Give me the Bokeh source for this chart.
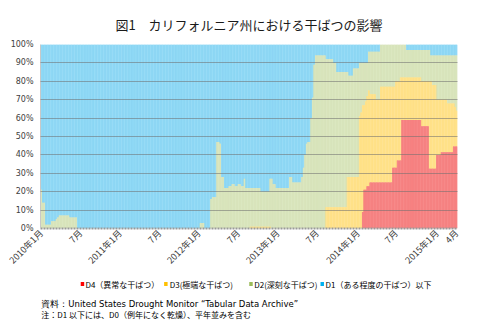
import math
import datetime as dt
from bokeh.plotting import figure
from bokeh.layouts import column
from bokeh.models import FixedTicker, Range1d, ColumnDataSource
from bokeh.core.properties import value
from bokeh.embed import file_html
from bokeh.resources import INLINE

# ---------------- data ----------------
title_text = "図1　カリフォルニア州における干ばつの影響"
series_names = ["D4（異常な干ばつ）", "D3(極端な干ばつ)", "D2(深刻な干ばつ)", "D1（ある程度の干ばつ）以下"]
source_note = "資料：United States Drought Monitor “Tabular Data Archive”"
note_text = "注：D1 以下には、D0（例年になく乾燥）、平年並みを含む"
first_week = "2010-01-05"
tick_months = ["2010-01", "2010-07", "2011-01", "2011-07", "2012-01", "2012-07",
               "2013-01", "2013-07", "2014-01", "2014-07", "2015-01", "2015-04"]
tick_labels = ["2010年1月", "7月", "2011年1月", "7月", "2012年1月", "7月",
               "2013年1月", "7月", "2014年1月", "7月", "2015年1月", "4月"]
y_ticks = [0, 10, 20, 30, 40, 50, 60, 70, 80, 90, 100]
y_tick_labels = ["0%", "10%", "20%", "30%", "40%", "50%", "60%", "70%", "80%", "90%", "100%"]
total = 100

# cumulative share of area (%), weekly: D2 or worse
d2 = [
    21, 14, 14, 2, 2, 2, 2, 4, 4, 4, 5, 6, 7, 7, 7, 7, 7, 7, 7, 6, 6, 6, 6, 6, 0,
    0, 0, 0, 0, 0, 0, 0, 0, 0, 0, 0, 0, 0, 0, 0, 0, 0, 0, 0, 0, 0, 0, 0, 0, 0,
    0, 0, 0, 0, 0, 0, 0, 0, 0, 0, 0, 0, 0, 0, 0, 0, 0, 0, 0, 0, 0, 0, 0, 0, 0,
    0, 0, 0, 0, 0, 0, 0, 0, 0, 0, 0, 0, 0, 0, 0, 0, 0, 0, 0, 0, 0, 0, 0, 0, 0,
    0, 0, 0, 0, 0, 3, 3, 3, 0, 0, 0, 0, 16, 17, 17, 17, 47, 47, 46, 28, 28, 22, 22, 22, 23,
    23, 24, 24, 23, 23, 24, 24, 23, 23, 27, 22, 22, 22, 22, 22, 22, 22, 22, 22, 22, 20, 20, 20, 20, 20,
    20, 27, 27, 24, 24, 22, 22, 22, 22, 22, 22, 22, 22, 22, 28, 28, 25, 25, 25, 25, 25, 25, 28, 33, 40,
    46, 47, 47, 60, 71, 89, 94, 94, 94, 94, 94, 94, 94, 92, 92, 92, 92, 92, 90, 90, 85, 85, 85, 85, 85,
    85, 85, 85, 83, 83, 83, 87, 87, 87, 87, 90, 90, 90, 90, 90, 90, 96, 96, 96, 96, 96, 96, 96, 96, 100,
    100, 100, 100, 100, 100, 100, 100, 100, 100, 100, 100, 100, 100, 100, 100, 100, 97, 97, 97, 97, 97, 97, 97, 97, 97,
    97, 97, 97, 97, 97, 97, 97, 94, 94, 94, 94, 94, 94, 94, 94, 94, 94, 94, 94, 94, 94, 94, 94, 94, 94,
]
# D3 or worse
d3 = [
    0, 0, 0, 0, 0, 0, 0, 0, 0, 0, 0, 0, 0, 0, 0, 0, 0, 0, 0, 0, 0, 0, 0, 0, 0,
    0, 0, 0, 0, 0, 0, 0, 0, 0, 0, 0, 0, 0, 0, 0, 0, 0, 0, 0, 0, 0, 0, 0, 0, 0,
    0, 0, 0, 0, 0, 0, 0, 0, 0, 0, 0, 0, 0, 0, 0, 0, 0, 0, 0, 0, 0, 0, 0, 0, 0,
    0, 0, 0, 0, 0, 0, 0, 0, 0, 0, 0, 0, 0, 0, 0, 0, 0, 0, 0, 0, 0, 0, 0, 0, 0,
    0, 0, 0, 0, 0, 0, 0, 0, 0, 0, 0, 0, 0, 0, 0, 0, 0, 0, 0, 0, 0, 0, 0, 0, 0,
    0, 0, 0, 0, 0, 0, 0, 0, 0, 0, 0, 0, 0, 1, 1, 1, 1, 1, 1, 1, 1, 1, 1, 1, 1,
    1, 1, 0, 0, 0, 0, 0, 0, 0, 0, 0, 0, 0, 0, 0, 0, 0, 0, 0, 0, 0, 0, 0, 0, 0,
    0, 0, 0, 0, 0, 0, 0, 0, 0, 0, 0, 0, 0, 11.5, 11.5, 11.5, 11.5, 11.5, 11.5, 11.5, 11.5, 11.5, 11.5, 11.5, 11.5,
    11.5, 11.5, 28, 28, 28, 28, 28, 28, 28, 28, 61, 63, 67, 67, 69, 72, 75, 73, 73, 73, 73, 70, 70, 70, 77,
    77, 77, 77, 77, 77, 77, 77, 77, 77, 80, 80, 80, 82, 82, 82, 82, 82, 82, 82, 82, 82, 82, 82, 82, 82,
    82, 80, 80, 80, 80, 80, 80, 80, 78, 78, 78, 70, 70, 70, 70, 70, 70, 70, 68, 68, 68, 68, 68, 66, 64,
]
# D4
d4 = [
    0, 0, 0, 0, 0, 0, 0, 0, 0, 0, 0, 0, 0, 0, 0, 0, 0, 0, 0, 0, 0, 0, 0, 0, 0,
    0, 0, 0, 0, 0, 0, 0, 0, 0, 0, 0, 0, 0, 0, 0, 0, 0, 0, 0, 0, 0, 0, 0, 0, 0,
    0, 0, 0, 0, 0, 0, 0, 0, 0, 0, 0, 0, 0, 0, 0, 0, 0, 0, 0, 0, 0, 0, 0, 0, 0,
    0, 0, 0, 0, 0, 0, 0, 0, 0, 0, 0, 0, 0, 0, 0, 0, 0, 0, 0, 0, 0, 0, 0, 0, 0,
    0, 0, 0, 0, 0, 0, 0, 0, 0, 0, 0, 0, 0, 0, 0, 0, 0, 0, 0, 0, 0, 0, 0, 0, 0,
    0, 0, 0, 0, 0, 0, 0, 0, 0, 0, 0, 0, 0, 0, 0, 0, 0, 0, 0, 0, 0, 0, 0, 0, 0,
    0, 0, 0, 0, 0, 0, 0, 0, 0, 0, 0, 0, 0, 0, 0, 0, 0, 0, 0, 0, 0, 0, 0, 0, 0,
    0, 0, 0, 0, 0, 0, 0, 0, 0, 0, 0, 0, 0, 0, 0, 0, 0, 0, 0, 0, 0, 0, 0, 0, 0,
    0, 0, 0, 0, 0, 0, 0, 0, 0, 0, 0, 0, 9, 21, 21, 23, 23, 25, 25, 25, 25, 25, 25, 25, 25,
    25, 25, 25, 25, 25, 25, 25, 33, 33, 33, 37, 37, 37, 59, 59, 59, 59, 59, 59, 59, 59, 59, 59, 59, 59,
    59, 55.6, 55.6, 55.6, 55.6, 55.6, 32.5, 32.5, 32.5, 32.5, 32.5, 40, 40, 40, 41.5, 41.5, 41.5, 41.5, 41.5, 41.5, 41.5, 41.5, 44.5, 44.5, 44.5,
]

# ---------------- build ----------------
n = len(d2)
start = dt.date.fromisoformat(first_week)
weeks = [start + dt.timedelta(days=7 * i) for i in range(n)]
xs = list(range(n))


def month_pos(ym):
    y, m = map(int, ym.split("-"))
    d = dt.date(y, m, 1)
    for i, w in enumerate(weeks):
        if w >= d:
            return i
    return n - 1


src = ColumnDataSource(dict(x=xs, d2=d2, d3=d3, d4=d4, top=[total for _ in xs], zero=[0 for _ in xs]))

jp = "Noto Sans CJK JP"
p = figure(width=480, height=274, output_backend="svg", toolbar_location=None,
           x_range=Range1d(-0.5, n - 0.5), y_range=Range1d(0, 100),
           min_border_left=40, min_border_right=23, min_border_top=44, min_border_bottom=46)
p.outline_line_color = None
p.background_fill_color = "white"

# title
p.title.text = title_text
p.title.align = "center"
p.title.offset = -10
p.title.text_font = jp
p.title.text_font_size = "13px"
p.title.text_font_style = "normal"
p.title.text_color = "#1a1a1a"
p.title.standoff = 22

# bars: base colour + lighter narrow strip (gradient look of the original)
styles = [  # (bottom, top, base, light)
    ("d2", "top", "#5ec4ee", "#b2e7fa"),
    ("d3", "d2", "#c8d8a0", "#e4edcf"),
    ("d4", "d3", "#ffd455", "#ffebb0"),
    ("zero", "d4", "#f05252", "#fba3a3"),
]
for b, t, base, light in styles:
    p.vbar(x="x", bottom=b, top=t, width=1.0, source=src, fill_color=base, line_color=None)
    p.vbar(x="x", bottom=b, top=t, width=0.45, source=src, fill_color=light, line_color=None)

# grid
p.xgrid.visible = False
p.ygrid.ticker = FixedTicker(ticks=y_ticks)
p.ygrid.grid_line_color = "#6f6f6f"
p.ygrid.grid_line_alpha = 0.55
p.ygrid.level = "overlay"

# axes
p.yaxis.ticker = FixedTicker(ticks=y_ticks)
p.yaxis.major_label_overrides = {t: l for t, l in zip(y_ticks, y_tick_labels)}
p.yaxis.axis_line_color = "#c8c8c8"
p.yaxis.major_tick_line_color = None
p.yaxis.minor_tick_line_color = None
p.yaxis.major_tick_out = 0
p.yaxis.major_label_text_font = "DejaVu Sans"
p.yaxis.major_label_text_font_size = "8px"
p.yaxis.major_label_text_color = "#404040"
p.yaxis.major_label_standoff = 7

xt = [month_pos(m) for m in tick_months]
p.xaxis.ticker = FixedTicker(ticks=xt)
p.xaxis.major_label_overrides = {t: l for t, l in zip(xt, tick_labels)}
p.xaxis.major_label_orientation = math.pi / 4
p.xaxis.axis_line_color = "#9a9a9a"
p.xaxis.axis_line_width = 2
p.xaxis.axis_line_dash = "2 1"
p.xaxis.major_tick_line_color = None
p.xaxis.minor_tick_line_color = None
p.xaxis.major_tick_out = 0
p.xaxis.major_label_text_font = jp
p.xaxis.major_label_text_font_size = "9px"
p.xaxis.major_label_text_color = "#404040"
p.xaxis.major_label_standoff = 3

# ---------------- legend + notes strip (pixel coordinates) ----------------
q = figure(width=480, height=50, output_backend="svg", toolbar_location=None,
           x_range=Range1d(0, 480), y_range=Range1d(50, 0),
           x_axis_type=None, y_axis_type=None,
           min_border_left=0, min_border_right=0, min_border_top=0, min_border_bottom=0)
q.outline_line_color = None
q.grid.visible = False

leg_cols = ["#ff0000", "#ffc000", "#9bbb59", "#00b0f0"]
leg_key_x = [48.3, 144.3, 242.3, 324.3]
leg_txt_x = [51.7, 148.7, 246.0, 328.0]
leg_y = [9.5, 9.5, 9.5, 9.5]
q.rect(x=leg_key_x, y=leg_y, width=4, height=4, fill_color=leg_cols, line_color=None)
q.text(x=leg_txt_x, y=leg_y, text=series_names, text_font=value(jp), text_font_size="8px",
       text_color="#000000", text_align="left", text_baseline="middle")

q.text(x=[1], y=[29.5], text=[source_note], text_font=value("DejaVu Sans"), text_font_size="8.5px",
       text_color="#000000", text_align="left", text_baseline="middle")
q.text(x=[1], y=[39.5], text=[note_text], text_font=value(jp), text_font_size="8px",
       text_color="#000000", text_align="left", text_baseline="middle")

layout = column(p, q, spacing=0)
open("out.html", "w").write(file_html(layout, INLINE))
